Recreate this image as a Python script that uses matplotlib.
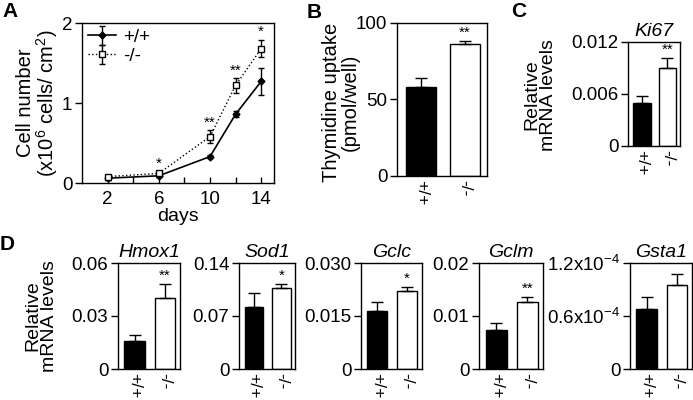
import matplotlib
matplotlib.use("Agg")
import matplotlib.pyplot as plt
import numpy as np

plt.rcParams['font.family'] = ['Liberation Sans', 'DejaVu Sans']
plt.rcParams['mathtext.default'] = 'regular'

# ---------------- data ----------------
days = [2, 6, 10, 12, 14]
wt_cells = [0.06, 0.09, 0.33, 0.86, 1.27]
wt_cells_err = [0.02, 0.01, 0.02, 0.04, 0.17]
ko_cells = [0.08, 0.12, 0.58, 1.22, 1.68]
ko_cells_err = [0.01, 0.02, 0.08, 0.09, 0.11]
cell_sig = ['', '*', '**', '**', '*']
genotypes = ['+/+', '-/-']

thymidine = [58, 86]
thymidine_err = [6, 2]
thymidine_sig = ['', '**']

ki67 = [0.0050, 0.0090]
ki67_err = [0.0008, 0.0012]
ki67_sig = ['', '**']

genes = ['Hmox1', 'Sod1', 'Gclc', 'Gclm', 'Gsta1']
gene_vals = [[0.016, 0.040], [0.082, 0.107], [0.0165, 0.0220], [0.0073, 0.0126], [0.68e-4, 0.95e-4]]
gene_errs = [[0.003, 0.008], [0.018, 0.005], [0.0025, 0.0012], [0.0013, 0.0010], [0.13e-4, 0.12e-4]]
gene_sig = [['', '**'], ['', '*'], ['', '*'], ['', '**'], ['', '']]
gene_ymax = [0.06, 0.14, 0.030, 0.02, 1.2e-4]
gene_ticks = [[0, 0.03, 0.06], [0, 0.07, 0.14], [0, 0.015, 0.030], [0, 0.01, 0.02], [0, 0.6e-4, 1.2e-4]]
gene_ticklabels = [['0', '0.03', '0.06'], ['0', '0.07', '0.14'], ['0', '0.015', '0.030'],
                   ['0', '0.01', '0.02'], ['0', '0.6x10$^{-4}$', '1.2x10$^{-4}$']]

W, H = 693, 400
fig = plt.figure(figsize=(W / 100, H / 100), dpi=100)

TFS = 13.5   # tick labels
LFS = 14     # axis labels
TIFS = 14    # titles
GFS = 12.5   # genotype labels
SFS = 11     # asterisks

def px_axes(l, r, t, b):
    return fig.add_axes([l / W, 1 - b / H, (r - l) / W, (b - t) / H])

def style(ax):
    for s in ax.spines.values():
        s.set_linewidth(1.0)
    ax.tick_params(axis='y', direction='out', length=5, width=1.0, labelsize=TFS, pad=2)

def bar_panel(ax, vals, errs, sig, ymax, ticks, ticklabels, title=None):
    x = np.arange(len(vals))
    ax.bar(x, vals, width=0.68, color=['black', 'white'], edgecolor='black', linewidth=1.0, zorder=2)
    ax.errorbar(x, vals, yerr=[np.zeros(len(errs)), errs], fmt='none', ecolor='black',
                elinewidth=1.0, capsize=4, capthick=1.0, zorder=3)
    for xi, v, e, s in zip(x, vals, errs, sig):
        if s:
            ax.text(xi, v + e + ymax * 0.01, s, ha='center', va='bottom', fontsize=SFS)
    ax.set_xlim(-0.55, 1.5)
    ax.set_ylim(0, ymax)
    ax.set_yticks(ticks)
    ax.set_yticklabels(ticklabels)
    ax.set_xticks(x)
    ax.set_xticklabels(genotypes, rotation=270, fontsize=GFS)
    ax.tick_params(axis='x', length=0, pad=3)
    style(ax)
    if title:
        ax.set_title(title, fontsize=TIFS, style='italic', pad=4)

# ---------------- A ----------------
axA = px_axes(82, 274, 23, 183)
axA.errorbar(days, wt_cells, yerr=wt_cells_err, color='black', lw=1.2, marker='D',
             ms=3.5, mfc='black', mec='black', capsize=2.5, elinewidth=1.0, label='+/+', zorder=3)
axA.errorbar(days, ko_cells, yerr=ko_cells_err, color='black', lw=1.0, ls=':', marker='s',
             ms=5, mfc='white', mec='black', capsize=2.5, elinewidth=1.0, label='-/-', zorder=4)
for d, v, e, s in zip(days, ko_cells, ko_cells_err, cell_sig):
    if s:
        axA.text(d, v + e + 0.01, s, ha='center', va='bottom', fontsize=SFS)
axA.set_xlim(0, 15)
axA.set_ylim(0, 2)
axA.set_xticks([2, 6, 10, 14])
axA.set_xticks([4, 8, 12], minor=True)
axA.set_yticks([0, 1, 2])
style(axA)
axA.tick_params(axis='x', which='both', direction='in', length=4, width=1.0, labelsize=TFS, pad=6)
axA.set_xlabel('days', fontsize=LFS, labelpad=0)
leg = axA.legend(loc='upper left', frameon=False, fontsize=13.5, handlelength=1.5,
                 handletextpad=0.4, borderaxespad=0.1, borderpad=0.2, labelspacing=0.1)
fig.text(38 / W, 1 - 103 / H, 'Cell number\n(x10$^{6}$ cells/ cm$^{2}$)', rotation=90,
         ha='center', va='center', fontsize=14.5, multialignment='center', linespacing=0.95)

# ---------------- B ----------------
axB = px_axes(397, 487, 23, 176)
bar_panel(axB, thymidine, thymidine_err, thymidine_sig, 100, [0, 50, 100], ['0', '50', '100'])
fig.text(341 / W, 1 - 102 / H, 'Thymidine uptake\n(pmol/well)', rotation=90,
         ha='center', va='center', fontsize=14.5, multialignment='center', linespacing=0.95)

# ---------------- C ----------------
axC = px_axes(628, 680, 42, 146)
bar_panel(axC, ki67, ki67_err, ki67_sig, 0.012, [0, 0.006, 0.012], ['0', '0.006', '0.012'], 'Ki67')
fig.text(540 / W, 1 - 95 / H, 'Relative\nmRNA levels', rotation=90,
         ha='center', va='center', fontsize=LFS, multialignment='center', linespacing=0.95)

# ---------------- D ----------------
d_pos = [(118, 180), (239, 295), (361, 422), (479, 543), (630, 692)]
for (l, r), g, v, e, s, ym, tk, tl in zip(d_pos, genes, gene_vals, gene_errs, gene_sig,
                                         gene_ymax, gene_ticks, gene_ticklabels):
    ax = px_axes(l, r, 263, 369)
    bar_panel(ax, v, e, s, ym, tk, tl, g)
fig.text(41 / W, 1 - 316 / H, 'Relative\nmRNA levels', rotation=90,
         ha='center', va='center', fontsize=LFS, multialignment='center', linespacing=0.95)

# panel letters
for lab, x, y in [('A', 2, 2), ('B', 307, 3), ('C', 511, 2), ('D', 0, 235)]:
    fig.text(x / W, 1 - y / H, lab, fontsize=15, fontweight='bold', ha='left', va='top')

fig.savefig('out.png', dpi=100)
